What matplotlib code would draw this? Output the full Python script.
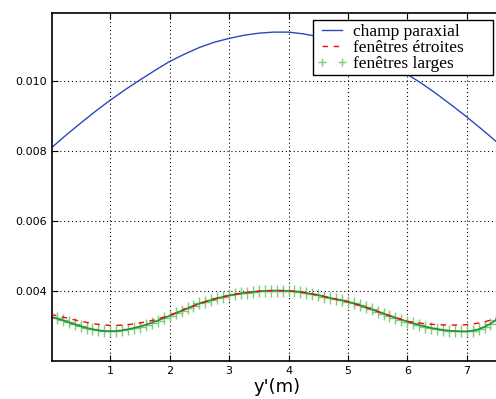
import numpy as np
import matplotlib
matplotlib.use('Agg')
import matplotlib.pyplot as plt

# Data ============================================================
# champ paraxial (step 0.25)
y_blue = np.arange(0, 7.76, 0.25)
champ_paraxial = [0.00808, 0.00845, 0.00880, 0.00914, 0.00946, 0.00976, 0.01004, 0.01031,
                  0.01057, 0.01078, 0.01097, 0.01112, 0.01123, 0.01132, 0.01138, 0.01141,
                  0.01141, 0.01136, 0.01128, 0.01115, 0.01100, 0.01082, 0.01062, 0.01042,
                  0.01020, 0.00993, 0.00963, 0.00931, 0.00898, 0.00863, 0.00827, 0.00790]

# fenetres etroites (step 0.25)
y_red = np.arange(0, 7.76, 0.25)
fen_etroites = [0.00332, 0.00322, 0.00312, 0.00304, 0.00300, 0.00301, 0.00307, 0.00316,
                0.00329, 0.00346, 0.00363, 0.00376, 0.00386, 0.00394, 0.00398, 0.00400,
                0.00399, 0.00395, 0.00387, 0.00377, 0.00368, 0.00355, 0.00340, 0.00325,
                0.00312, 0.00306, 0.00302, 0.00301, 0.00302, 0.00308, 0.00320, 0.00332]

# fenetres larges (step 0.1)
y_green = np.arange(0, 7.61, 0.1)
fen_larges = [0.00325, 0.00320, 0.00315, 0.00309, 0.00303, 0.00298, 0.00293, 0.00289, 0.00286, 0.00284,
              0.00284, 0.00284, 0.00286, 0.00289, 0.00293, 0.00297, 0.00302, 0.00308, 0.00314, 0.00321,
              0.00328, 0.00335, 0.00342, 0.00349, 0.00356, 0.00363, 0.00368, 0.00373, 0.00378, 0.00382,
              0.00386, 0.00389, 0.00392, 0.00394, 0.00396, 0.00398, 0.00399, 0.00400, 0.00400, 0.00400,
              0.00399, 0.00398, 0.00396, 0.00393, 0.00390, 0.00387, 0.00383, 0.00379, 0.00375, 0.00372,
              0.00368, 0.00363, 0.00358, 0.00352, 0.00346, 0.00340, 0.00334, 0.00328, 0.00322, 0.00317,
              0.00311, 0.00306, 0.00301, 0.00297, 0.00293, 0.00290, 0.00287, 0.00285, 0.00284, 0.00283,
              0.00283, 0.00285, 0.00289, 0.00296, 0.00305, 0.00316, 0.00326]

labels = ['champ paraxial', 'fenêtres étroites', 'fenêtres larges']
xticks = [1, 2, 3, 4, 5, 6, 7]
yticks = [0.004, 0.006, 0.008, 0.010]

# Plotting ========================================================
fig = plt.figure(figsize=(4.96, 3.99), dpi=100)
ax = fig.add_axes([52/496, 0.096, 450/496, 0.8707])

l1, = ax.plot(y_blue, champ_paraxial, '-', color='#2a48c0', lw=1.0)
l3, = ax.plot(y_green, fen_larges, '+', color='#7ccc7c', ms=9, mew=1.0, ls='none', zorder=2)
ax.plot(y_green, fen_larges, '-', color='#2e8b3e', lw=1.2, zorder=2)
l2, = ax.plot(y_red, fen_etroites, '--', color='red', lw=1.0, dashes=(4, 4), zorder=3)

ax.set_xlim(0.0185, 7.594)
ax.set_ylim(0.00199, 0.01195)
ax.set_xticks(xticks)
ax.set_yticks(yticks)
ax.set_yticklabels(['%.3f' % v for v in yticks])
ax.tick_params(direction='in', top=True, right=True, labelsize=8, length=4)
ax.grid(True, color='black', lw=0.8, dashes=(1, 2.5))
for s in ax.spines.values():
    s.set_linewidth(1.2)

ax.set_xlabel("y'(m)", fontsize=13, labelpad=2)

# old-style legend: extra room on the right of the labels
leg = ax.legend([l1, l2, l3], [t + '      ' for t in labels],
                loc='upper right', bbox_to_anchor=(493/496, 1 - 20/399),
                bbox_transform=fig.transFigure, borderaxespad=0,
                prop={'family': 'Liberation Serif', 'size': 12.5},
                fancybox=False, framealpha=1, edgecolor='black',
                handlelength=1.75, handletextpad=0.3, labelspacing=0.0,
                borderpad=0.2, numpoints=2, markerscale=0.6)
leg.get_frame().set_linewidth(1.0)

plt.savefig('out.png', dpi=100)
